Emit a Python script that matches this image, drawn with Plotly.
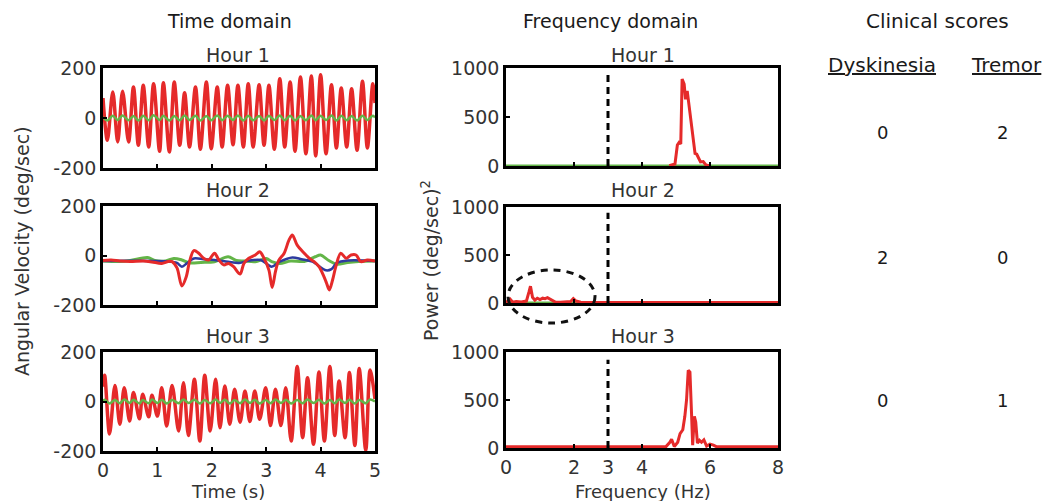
import plotly.graph_objects as go

# ---------------- data ----------------
# Time domain (seconds, deg/sec)
h1_red_t = [0.00, 0.08, 0.18, 0.27, 0.36, 0.47, 0.56, 0.65, 0.74, 0.84, 0.93, 1.04, 1.11, 1.22,
            1.31, 1.41, 1.50, 1.59, 1.70, 1.79, 1.90, 1.99, 2.10, 2.19, 2.29, 2.39, 2.48, 2.58,
            2.67, 2.76, 2.87, 2.96, 3.05, 3.15, 3.25, 3.34, 3.44, 3.53, 3.63, 3.73, 3.83, 3.91,
            4.00, 4.10, 4.20, 4.29, 4.38, 4.48, 4.57, 4.67, 4.77, 4.86, 4.96, 5.00]
h1_red_v = [80, -89, 104, -96, 107, -96, 124, -109, 131, -116, 137, -133, 141, -136,
            144, -109, 101, -116, 124, -125, 144, -123, 124, -116, 131, -107, 131, -116,
            137, -116, 133, -109, 131, -125, 157, -116, 144, -133, 164, -143, 168, -152,
            173, -143, 133, -120, 120, -116, 117, -129, 147, -120, 137, 60]
h1_grn_t = h1_red_t
h1_grn_v = [4, -10, 9, -8, 10, -9, 8, -10, 9, -9, 11, -8, 9, -10, 8, -9, 10, -8, 9, -10,
            8, -9, 10, -9, 9, -8, 10, -10, 9, -9, 8, -10, 9, -8, 10, -9, 9, -10, 8, -9,
            10, -9, 9, -8, 10, -10, 9, -9, 8, -10, 9, -8, 9, 2]

h2_red_t = [0.00, 0.15, 0.31, 0.50, 0.74, 0.90, 1.08, 1.20, 1.27, 1.36, 1.45, 1.53, 1.59, 1.67,
            1.76, 1.85, 1.94, 2.05, 2.13, 2.22, 2.31, 2.40, 2.52, 2.59, 2.68, 2.80, 2.88, 2.96,
            3.05, 3.11, 3.17, 3.23, 3.33, 3.42, 3.48, 3.57, 3.70, 3.79, 3.88, 3.97, 4.05, 4.11,
            4.16, 4.22, 4.28, 4.37, 4.47, 4.56, 4.65, 4.74, 4.86, 5.00]
h2_red_v = [-20, -18, -22, -24, -22, -26, -32, -24, -25, -50, -123, -86, -25, 20,
            9, -11, -18, 9, -18, -38, -32, -45, -75, -32, -11, 2, 15, -11,
            -59, -129, -65, -20, 9, 63, 83, 42, 9, -11, -25, -45, -79, -112,
            -139, -99, -45, 9, -11, 2, 2, -25, -18, -22]
h2_blu_t = [0.00, 1.20, 1.36, 1.45, 1.55, 1.67, 1.85, 2.05, 2.30, 2.50, 2.70, 2.90, 3.10, 3.25,
            3.48, 3.65, 3.85, 4.10, 4.20, 4.30, 4.50, 5.00]
h2_blu_v = [-22, -24, -30, -45, -30, -12, -15, -18, -25, -30, -20, -18, -45, -25,
            -8, -15, -25, -60, -55, -30, -20, -22]
h2_grn_t = [0.00, 0.30, 0.50, 0.82, 0.95, 1.15, 1.30, 1.45, 1.60, 1.80, 2.05, 2.30, 2.45, 2.60,
            2.80, 3.00, 3.10, 3.25, 3.45, 3.70, 3.90, 4.00, 4.15, 4.30, 4.50, 4.70, 5.00]
h2_grn_v = [-22, -24, -20, -8, -20, -22, -12, -18, -30, -28, -25, -5, -20, -22,
            -25, -12, -25, -32, -22, -24, -5, 2, -20, -35, -28, -24, -22]

h3_red_t = [0.00, 0.03, 0.12, 0.22, 0.31, 0.39, 0.49, 0.56, 0.67, 0.73, 0.84, 0.90, 1.00, 1.08,
            1.17, 1.27, 1.39, 1.48, 1.57, 1.68, 1.78, 1.87, 1.97, 2.07, 2.15, 2.24, 2.33, 2.42,
            2.52, 2.61, 2.70, 2.79, 2.88, 2.99, 3.08, 3.17, 3.27, 3.36, 3.46, 3.57, 3.67, 3.76,
            3.87, 3.97, 4.07, 4.17, 4.26, 4.34, 4.45, 4.53, 4.63, 4.71, 4.83, 4.91, 5.00]
h3_red_v = [60, 106, -131, 65, -92, 56, -79, 36, -70, 29, -62, 25, -59, 56,
            -99, 65, -119, 76, -137, 90, -160, 106, -119, 90, -106, 63, -92, 49,
            -84, 42, -81, 42, -72, 56, -97, 49, -97, 56, -160, 141, -146, 96,
            -173, 119, -160, 141, -137, 83, -146, 117, -178, 133, -197, 127, 10]
h3_grn_t = h3_red_t
h3_grn_v = [2, 7, -8, 6, -7, 8, -6, 7, -8, 6, -7, 8, -6, 7, -8, 6, -7, 8, -6, 7,
            -8, 6, -7, 8, -6, 7, -8, 6, -7, 8, -6, 7, -8, 6, -7, 8, -6, 7, -8, 6,
            -7, 8, -6, 7, -8, 6, -7, 8, -6, 7, -8, 6, -7, 8, 0]

# Frequency domain (Hz, (deg/sec)^2)
f1_red_f = [4.80, 4.97, 5.04, 5.09, 5.14, 5.18, 5.24, 5.28, 5.33, 5.39, 5.46, 5.51, 5.56, 5.61,
            5.66, 5.72, 5.80, 5.88, 5.98]
f1_red_p = [4, 20, 214, 240, 225, 888, 836, 681, 767, 611, 404, 266, 128, 120,
            76, 41, 45, 10, 4]
f1_grn_f = [0, 4, 8]
f1_grn_p = [3, 3, 3]

f2_red_f = [0.00, 0.12, 0.20, 0.30, 0.45, 0.60, 0.68, 0.72, 0.78, 0.85, 0.92, 1.00, 1.08, 1.15,
            1.22, 1.30, 1.38, 1.45, 1.60, 1.75, 1.90, 1.98, 2.06, 2.20, 3.00, 8.00]
f2_red_p = [5, 40, 8, 15, 10, 20, 120, 175, 60, 30, 50, 35, 50, 45,
            55, 40, 30, 10, 8, 10, 15, 45, 20, 8, 6, 6]
f2_grn_f = [0, 4, 8]
f2_grn_p = [3, 3, 3]

f3_red_f = [0.00, 4.70, 4.82, 4.87, 4.95, 5.05, 5.12, 5.20, 5.26, 5.31, 5.36, 5.41, 5.46, 5.49,
            5.54, 5.58, 5.63, 5.69, 5.75, 5.82, 5.90, 6.00, 6.10, 6.20, 8.00]
f3_red_p = [12, 12, 60, 90, 15, 60, 150, 190, 330, 500, 810, 790, 330, 30,
            330, 270, 50, 80, 60, 85, 20, 40, 30, 12, 12]

cutoff_hz = 3
cutoff_top = [930, 940, 920]

hour_labels = ["Hour 1", "Hour 2", "Hour 3"]
dyskinesia_scores = [0, 2, 0]
tremor_scores = [2, 0, 1]

time_ticks = [0, 1, 2, 3, 4, 5]
vel_ticks = [-200, 0, 200]
vel_ticktext = ["-200", "0", "200"]
freq_ticks = [0, 2, 3, 4, 6, 8]
pow_ticks = [0, 500, 1000]

# ---------------- styling / layout ----------------
W, H = 1047, 501
def fx(p):
    return p / W
def fy(p):
    return 1 - p / H

RED = "#e52a2a"
GREEN = "#63b548"
BLUE = "#2d3a9e"
FONT = "DejaVu Sans"
TICKFONT = dict(family=FONT, size=19, color="#333333")

fig = go.Figure()

def line(x, y, ax, color, width=3, spline=True):
    fig.add_trace(go.Scatter(
        x=x, y=y, xaxis="x" + ax, yaxis="y" + ax, mode="lines",
        line=dict(color=color, width=width, shape="spline" if spline else "linear", smoothing=0.9),
        hoverinfo="skip", showlegend=False))

# time panels: axes 1..3 ; frequency panels: axes 4..6
line(h1_red_t, h1_red_v, "", RED, 3.5)
line(h1_grn_t, h1_grn_v, "", GREEN, 2.5)
line(h2_grn_t, h2_grn_v, "2", GREEN, 3)
line(h2_blu_t, h2_blu_v, "2", BLUE, 2.5)
line(h2_red_t, h2_red_v, "2", RED, 3)
line(h3_red_t, h3_red_v, "3", RED, 3.5)
line(h3_grn_t, h3_grn_v, "3", GREEN, 2.5)

line(f1_grn_f, f1_grn_p, "4", GREEN, 2.5, False)
line(f1_red_f, f1_red_p, "4", RED, 3, False)
line(f2_grn_f, f2_grn_p, "5", GREEN, 2.5, False)
line(f2_red_f, f2_red_p, "5", RED, 3, False)
line(f3_red_f, f3_red_p, "6", RED, 3, False)

for i, ax in enumerate(["4", "5", "6"]):
    fig.add_trace(go.Scatter(
        x=[cutoff_hz, cutoff_hz], y=[0, cutoff_top[i]], xaxis="x" + ax, yaxis="y" + ax,
        mode="lines", line=dict(color="black", width=3, dash="7px,5px"),
        hoverinfo="skip", showlegend=False))

time_rows = [(68, 168), (206, 305), (352, 451)]
freq_rows = [(68, 166), (207, 303), (352, 448)]

axis_common = dict(showline=True, mirror=True, linecolor="black", linewidth=2.5,
                   ticks="inside", ticklen=4, tickwidth=2, tickcolor="black",
                   showgrid=False, zeroline=False, tickfont=TICKFONT, fixedrange=True,
                   automargin=False)

layout = {}
for r in range(3):
    xn = "xaxis" if r == 0 else "xaxis%d" % (r + 1)
    yn = "yaxis" if r == 0 else "yaxis%d" % (r + 1)
    top, bot = time_rows[r]
    layout[xn] = dict(axis_common, domain=[fx(103), fx(375)], range=[0, 5],
                      tickvals=time_ticks, ticktext=[str(v) for v in time_ticks],
                      showticklabels=(r == 2), anchor="y" if r == 0 else "y%d" % (r + 1))
    layout[yn] = dict(axis_common, domain=[fy(bot), fy(top)], range=[-200, 200],
                      tickvals=vel_ticks, ticktext=vel_ticktext,
                      anchor="x" if r == 0 else "x%d" % (r + 1))
    k = r + 4
    top, bot = freq_rows[r]
    layout["xaxis%d" % k] = dict(axis_common, domain=[fx(506), fx(778)], range=[0, 8],
                                tickvals=freq_ticks, ticktext=[str(v) for v in freq_ticks],
                                showticklabels=(r == 2), anchor="y%d" % k)
    layout["yaxis%d" % k] = dict(axis_common, domain=[fy(bot), fy(top)], range=[0, 1000],
                                tickvals=pow_ticks, ticktext=[str(v) for v in pow_ticks],
                                anchor="x%d" % k)

annotations = []
def text(s, x, y, size=19, angle=0, color="#1a1a1a"):
    annotations.append(dict(text=s, x=fx(x), y=fy(y), xref="paper", yref="paper",
                            showarrow=False, textangle=angle, xanchor="center", yanchor="middle",
                            font=dict(family=FONT, size=size, color=color)))

text("Time domain", 229, 21)
text("Frequency domain", 610, 21)
text("Clinical scores", 937, 21, 20)
text("<u>Dyskinesia</u>", 882, 65, 20)
text("<u>Tremor</u>", 1006, 65, 20)

hour_y = [55, 190, 336]
for r in range(3):
    text(hour_labels[r], 238, hour_y[r], 19, color="#333333")
    text(hour_labels[r], 643, hour_y[r], 19, color="#333333")

score_y = [132, 257, 400]
for r in range(3):
    text(str(dyskinesia_scores[r]), 882, score_y[r], 18)
    text(str(tremor_scores[r]), 1002, score_y[r], 18)

text("Angular Velocity (deg/sec)", 22, 251, 19, -90, "#333333")
text("Power (deg/sec)<sup>2</sup>", 430, 261, 19, -90, "#333333")
text("Time (s)", 228, 491, 18, 0, "#333333")
text("Frequency (Hz)", 643, 491, 18, 0, "#333333")

shapes = [dict(type="circle", xref="paper", yref="paper",
               x0=fx(508), x1=fx(595), y0=fy(323), y1=fy(270),
               line=dict(color="#111111", width=3, dash="7px,6px"))]

fig.update_layout(
    width=W, height=H, margin=dict(l=0, r=0, t=0, b=0, autoexpand=False),
    paper_bgcolor="white", plot_bgcolor="white", showlegend=False,
    annotations=annotations, shapes=shapes, **layout)

fig.write_html("out.html", config={"displayModeBar": False},
               post_script="document.body.style.margin='0px';document.body.style.overflow='hidden';")
